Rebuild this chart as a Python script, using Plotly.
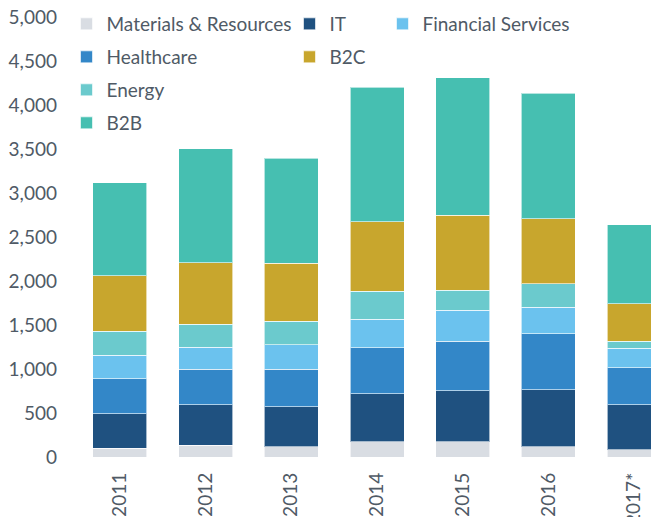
import plotly.graph_objects as go

years = ["2011", "2012", "2013", "2014", "2015", "2016", "2017*"]
materials = [100, 133, 114, 171, 171, 114, 84]
it = [390, 459, 459, 550, 580, 653, 512]
healthcare = [398, 406, 425, 519, 562, 633, 417]
financial = [267, 247, 276, 323, 353, 300, 221]
energy = [273, 265, 270, 319, 231, 269, 83]
b2c = [630, 698, 657, 793, 850, 739, 424]
b2b = [1059, 1293, 1194, 1528, 1562, 1427, 896]

series = [
    ("Materials & Resources", materials, "#d9dde3"),
    ("IT", it, "#1f5180"),
    ("Healthcare", healthcare, "#3387c8"),
    ("Financial Services", financial, "#6bc2ee"),
    ("Energy", energy, "#6bcacd"),
    ("B2C", b2c, "#c8a62d"),
    ("B2B", b2b, "#46bfb1"),
]

# page body has an 8px margin, so the figure is drawn 8px in from the window corner
OFF = 8
W, H = 659 - OFF, 517 - OFF
# legend positions (symbol centre x, row centre y) in window pixels
leg_pos = {
    "Materials & Resources": (93.5, 24),
    "IT": (316.5, 24),
    "Financial Services": (409.5, 24),
    "Healthcare": (93.5, 57),
    "B2C": (316.5, 57),
    "Energy": (93.5, 90),
    "B2B": (93.5, 123),
}

txt = "#4f5a66"
font_family = "Lato"

fig = go.Figure()
layout_legends = {}
for i, (name, vals, col) in enumerate(series):
    lname = "legend" if i == 0 else f"legend{i+1}"
    fig.add_trace(go.Bar(
        x=years, y=vals, name=name,
        marker=dict(color=col, line=dict(color="rgba(255,255,255,0.6)", width=1)),
        legend=lname,
    ))
    sx, sy = leg_pos[name]
    layout_legends[lname] = dict(
        x=(sx - 27 - OFF) / W, y=1 - (sy - OFF) / H,
        xref="container", yref="container",
        xanchor="left", yanchor="middle",
        bgcolor="rgba(0,0,0,0)", borderwidth=0,
        font=dict(family=font_family, size=19, color=txt),
        itemclick=False, itemdoubleclick=False,
    )

fig.update_layout(
    barmode="stack",
    bargap=0.37,
    width=W, height=H,
    margin=dict(l=77 - OFF, r=0, t=17.3 - OFF, b=517 - 456.7, autoexpand=False),
    plot_bgcolor="white",
    paper_bgcolor="white",
    showlegend=True,
    font=dict(family=font_family, size=17, color=txt),
    **layout_legends,
)
fig.update_xaxes(
    range=[-0.5, 6.29],
    tickangle=-90,
    showgrid=False, showline=False, zeroline=False,
    ticks="", ticklabelstandoff=11, ticklabeloverflow="allow",
    tickfont=dict(family=font_family, size=19, color=txt),
)
fig.update_yaxes(
    range=[0, 5000], dtick=500, tickformat=",",
    showgrid=False, showline=False, zeroline=False,
    ticks="", ticklabelstandoff=19, ticklabeloverflow="allow",
    tickfont=dict(family=font_family, size=19, color=txt),
)

fig.write_html("out.html")
